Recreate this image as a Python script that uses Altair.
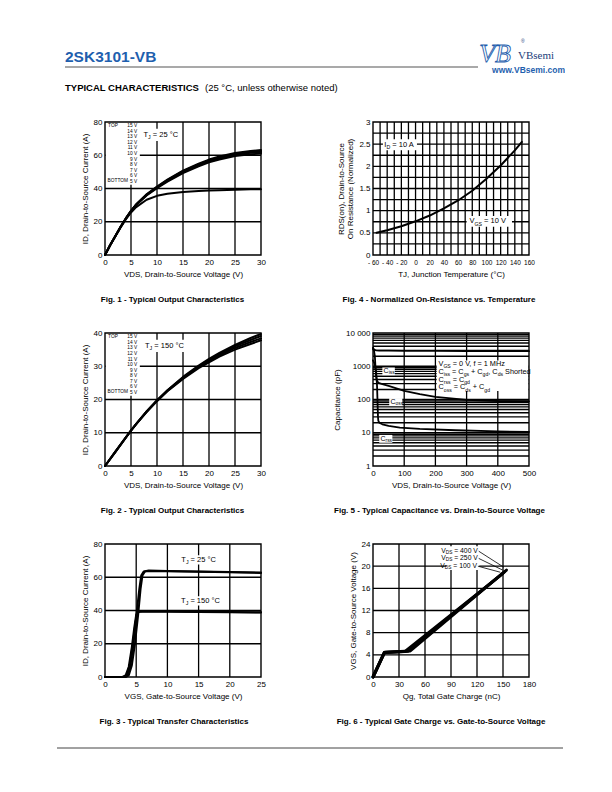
import altair as alt
import pandas as pd

FONT = "Liberation Sans"
BLUE = "#1f5fae"

# ---------------- data ----------------
# Fig 1: output characteristics, TJ = 25 C
f1_vds = [0, 1, 2, 3, 4, 5, 6, 8, 10, 12, 15, 18, 20, 22, 25, 28, 30]
f1_15v = [0, 6, 11.5, 17, 22, 26.5, 30.5, 36.5, 41.2, 45.3, 50.8, 55, 57.4, 59.2, 61.3, 62.6, 63.1]
f1_12v = [0, 6, 11.5, 17, 22, 26.5, 30.4, 36.3, 40.9, 45, 50.4, 54.5, 56.9, 58.7, 60.8, 62.1, 62.5]
f1_9v = [0, 6, 11.4, 16.9, 21.9, 26.4, 30.3, 36.1, 40.6, 44.6, 49.9, 54, 56.4, 58.2, 60.3, 61.5, 61.9]
f1_6v = [0, 6, 11.4, 16.8, 21.8, 26.3, 30.1, 35.8, 40.2, 44.1, 49.3, 53.3, 55.7, 57.4, 59.5, 60.6, 61]
f1_5v = [0, 5.9, 11.3, 16.6, 21.4, 25.6, 28.8, 33.2, 35.6, 36.8, 37.9, 38.5, 38.8, 39, 39.3, 39.5, 39.6]
f1_xgrid = [5, 10, 15, 20, 25]
f1_ygrid = [20, 40, 60]

# Fig 2: output characteristics, TJ = 150 C
f2_vds = [0, 2, 4, 5, 6, 8, 10, 12, 15, 18, 20, 22, 25, 28, 30]
f2_15v = [0, 4.3, 8.6, 10.7, 12.7, 16.4, 19.8, 22.8, 26.8, 30.2, 32.2, 34, 36.4, 38.5, 39.7]
f2_11v = [0, 4.3, 8.6, 10.7, 12.7, 16.4, 19.7, 22.7, 26.6, 30, 31.9, 33.7, 36, 37.9, 39.1]
f2_7v = [0, 4.3, 8.5, 10.6, 12.6, 16.3, 19.6, 22.6, 26.4, 29.7, 31.6, 33.3, 35.5, 37.3, 38.4]
f2_5v = [0, 4.2, 8.5, 10.6, 12.6, 16.2, 19.5, 22.5, 26.2, 29.4, 31.2, 32.9, 35, 36.7, 37.8]
f2_xgrid = [5, 10, 15, 20, 25]
f2_ygrid = [10, 20, 30]

legend_volts = ["15 V", "14 V", "13 V", "12 V", "11 V", "10 V", "9 V", "8 V", "7 V", "6 V", "5 V"]

# Fig 3: transfer characteristics
f3_25a_vgs = [0, 3, 3.5, 4, 4.5, 5, 5.5, 5.8, 6.2, 7, 10, 15, 20, 25]
f3_25a_id = [0, 0, 0.5, 5, 18, 36, 53, 61, 63.5, 64, 63.8, 63.5, 63.2, 62.8]
f3_25b_vgs = [0, 3.3, 3.8, 4.3, 4.8, 5.3, 5.7, 6.0, 6.4, 7, 10, 15, 20, 25]
f3_25b_id = [0, 0, 1, 7, 20, 37, 53, 61, 63.5, 63.8, 63.6, 63.3, 63, 62.6]
f3_150a_vgs = [0, 2.8, 3.3, 3.8, 4.3, 4.7, 5.0, 5.3, 6, 10, 15, 20, 25]
f3_150a_id = [0, 0, 1, 6, 18, 30, 37.5, 39.3, 39.6, 39.5, 39.3, 39.1, 39]
f3_150b_vgs = [0, 3.0, 3.5, 4.0, 4.5, 4.9, 5.2, 5.5, 6, 10, 15, 20, 25]
f3_150b_id = [0, 0, 1.5, 8, 21, 33, 38.5, 39.2, 39.4, 39.3, 39.1, 38.9, 38.8]
f3_xgrid = [5, 10, 15, 20]
f3_ygrid = [20, 40, 60]

# Fig 4: normalized on-resistance vs temperature
f4_tj = [-55, -40, -20, 0, 20, 40, 60, 80, 100, 120, 140, 150]
f4_rds = [0.5, 0.56, 0.65, 0.76, 0.89, 1.05, 1.23, 1.45, 1.72, 2.02, 2.36, 2.55]
f4_xgrid = list(range(-50, 160, 10))
f4_ygrid = [0.25, 0.5, 0.75, 1, 1.25, 1.5, 1.75, 2, 2.25, 2.5, 2.75]

# Fig 5: capacitance vs VDS
f5_ciss_v = [0, 2, 5, 10, 20, 50, 100, 200, 300, 400, 500]
f5_ciss_c = [3600, 3300, 3100, 3000, 2950, 2950, 2900, 2900, 2880, 2850, 2850]
f5_coss_v = [0, 3, 6, 8, 10, 12, 15, 20, 30, 50, 100, 150, 200, 300, 400, 500]
f5_coss_c = [3300, 3000, 2000, 900, 500, 380, 340, 310, 290, 255, 183, 145, 120, 97, 90, 88]
f5_crss_v = [0, 5, 10, 13, 15, 16, 17, 20, 30, 50, 86, 150, 264, 400, 500]
f5_crss_c = [1500, 1200, 700, 250, 60, 30, 23, 20, 18, 16, 14.3, 13, 11.9, 11, 10.6]
f5_xgrid = [100, 200, 300, 400]
f5_ygrid = [m * 10 ** d for d in range(4) for m in range(1, 10)][1:]

# Fig 6: gate charge
f6_100_qg = [0, 13, 37, 150]
f6_100_vgs = [0, 4.4, 4.6, 18.7]
f6_250_qg = [0, 13, 40, 152]
f6_250_vgs = [0, 4.4, 4.65, 19.0]
f6_400_qg = [0, 13.5, 43, 154]
f6_400_vgs = [0, 4.45, 4.7, 19.3]
f6_xgrid = [30, 60, 90, 120, 150]
f6_ygrid = [4, 8, 12, 16, 20]

W, H = 156, 133
GRID_W = 1.3

# Arial / Liberation Sans advance widths (1/1000 em) for rich-text layout
CHAR_W = {" ": 278, "=": 584, "°": 400, ",": 278, ".": 278, "+": 584, "A": 667, "C": 722,
          "D": 722, "G": 778, "H": 722, "I": 278, "J": 500, "M": 833, "S": 667, "T": 611,
          "V": 667, "a": 556, "d": 556, "e": 556, "f": 278, "g": 556, "h": 556, "i": 222,
          "o": 556, "r": 333, "s": 500, "t": 278, "z": 500}


# ---------------- helpers ----------------
def curves(items):
    rows = []
    for name, xs, ys in items:
        for a, b in zip(xs, ys):
            rows.append({"x": a, "y": b, "s": name})
    return pd.DataFrame(rows)


def grid(xs, ys, xd, yd):
    rows = [{"x": v, "x2": v, "y": yd[0], "y2": yd[1], "g": "v%s" % i} for i, v in enumerate(xs)]
    rows += [{"x": xd[0], "x2": xd[1], "y": v, "y2": v, "g": "h%s" % i} for i, v in enumerate(ys)]
    return [alt.Chart(pd.DataFrame(rows)).mark_rule(color="#000000", strokeWidth=GRID_W).encode(
        x2="x2:Q", y2="y2:Q", detail="g:N")]


def line_layer(df, width=2.0):
    return alt.Chart(df).mark_line(color="black", strokeWidth=width,
                                   strokeJoin="round", strokeCap="round").encode(detail="s:N")


def boxes(rects):
    return alt.Chart(pd.DataFrame(rects)).mark_rect(color="white").encode(x2="x2:Q", y2="y2:Q")


def texts(df, size=7.5, align="left"):
    return alt.Chart(df).mark_text(align=align, baseline="middle", fontSize=size,
                                   font=FONT, color="black").encode(text="t:N")


def tw(s, size):
    return sum(CHAR_W.get(c, 556) for c in s) * size / 1000.0


def rich(x, y, segs, size=7.5, align="left"):
    """Text with subscripts: segs is a list of (text, is_subscript)."""
    sub = size * 0.7
    widths = [tw(t, sub if s else size) for t, s in segs]
    total = sum(widths)
    off = 0 if align == "left" else (-total if align == "right" else -total / 2)
    out = []
    for (t, s), w in zip(segs, widths):
        fs = sub if s else size
        lead = len(t) - len(t.lstrip(" "))
        shown = t.strip(" ")
        if shown:
            out.append(alt.Chart(pd.DataFrame({"x": [x], "y": [y], "t": [shown]})).mark_text(
                align="left", baseline="middle", fontSize=fs, font=FONT, color="black",
                dx=off + tw(" " * lead, fs), dy=2.2 if s else 0).encode(text="t:N"))
        off += w
    return out


def frame(xd, yd):
    df = pd.DataFrame({"x": [xd[0]], "x2": [xd[1]], "y": [yd[0]], "y2": [yd[1]]})
    return alt.Chart(df).mark_rect(fillOpacity=0, stroke="black", strokeWidth=1.4).encode(
        x2="x2:Q", y2="y2:Q")


ONE = pd.DataFrame({"a": [0]})


def caption(txt, dx):
    return alt.Chart(ONE).mark_text(align="center", baseline="middle", fontSize=8,
                                    fontWeight="bold", font=FONT, color="black").encode(
        x=alt.value(W / 2 + dx), y=alt.value(H + 45), text=alt.value(txt))


def panel(layers, xd, yd, xvals, yvals, xtitle, ytitle, ylog=False, xexpr=None, yexpr=None,
          xlabelsize=8, xlabelpad=3):
    xaxis = dict(values=xvals, grid=False, title=xtitle, labelFontSize=xlabelsize,
                 labelPadding=xlabelpad)
    if xexpr:
        xaxis["labelExpr"] = xexpr
    yaxis = dict(values=yvals, grid=False, title=ytitle)
    if yexpr:
        yaxis["labelExpr"] = yexpr
    ysc = alt.Scale(type="log", domain=yd) if ylog else alt.Scale(domain=yd, nice=False, zero=False)
    return alt.layer(*layers).encode(
        x=alt.X("x:Q", scale=alt.Scale(domain=xd, nice=False, zero=False), axis=alt.Axis(**xaxis)),
        y=alt.Y("y:Q", scale=ysc, axis=alt.Axis(**yaxis)),
    ).properties(width=W, height=H)


# ---------------- header (drawn in pixel space of first panel) ----------------
def htext(txt, x, y, size, weight="normal", color="black", align="left", font=FONT, **kw):
    return alt.Chart(ONE).mark_text(align=align, baseline="alphabetic", fontSize=size,
                                    fontWeight=weight, font=font, color=color, **kw).encode(
        x=alt.value(x), y=alt.value(y), text=alt.value(txt))


def hrule(x1, x2, y, color, width):
    return alt.Chart(ONE).mark_rule(color=color, strokeWidth=width).encode(
        x=alt.value(x1), x2=alt.value(x2), y=alt.value(y))


header = [
    hrule(-96.5, -95.5, -113.5, "white", 1),
    htext("2SK3101-VB", -40, -60, 15.5, "bold", BLUE),
    hrule(-40, 373, -55, "#8c8c8c", 1.6),
    htext("VB", 390, -60, 26, "normal", "white", "center", "Liberation Serif",
          fontStyle="italic", stroke=BLUE, strokeWidth=0.9),
    htext("®", 416, -79, 5, "normal", "#1b3d7a"),
    htext("VBsemi", 413, -63, 11, "normal", "#1b3d7a", "left", "Liberation Serif"),
    htext("www.VBsemi.com", 460, -49, 8.5, "bold", BLUE, "right"),
    htext("TYPICAL CHARACTERISTICS", -40, -31, 9.5, "bold"),
    htext("(25 °C, unless otherwise noted)", 100, -31, 9.5),
    hrule(-48, 458, 626, "#444444", 1),
]

# ---------------- Fig 1 ----------------
f1_df = curves([("15", f1_vds, f1_15v), ("12", f1_vds, f1_12v), ("9", f1_vds, f1_9v),
                ("6", f1_vds, f1_6v), ("5", f1_vds, f1_5v)])
f1_leg_y = [77.4, 74.07, 70.74, 67.41, 64.08, 60.75, 57.42, 54.09, 50.76, 47.43, 44.1]
f1_leg = pd.DataFrame({"x": [6.2] * 11, "y": f1_leg_y, "t": legend_volts})
f1_tb = pd.DataFrame({"x": [0.6, 0.5], "y": [77.4, 44.6], "t": ["TOP", "BOTTOM"]})
fig1 = panel(
    header + grid(f1_xgrid, f1_ygrid, [0, 30], [0, 80]) + [
        boxes([{"x": 0.1, "x2": 6.7, "y": 42.3, "y2": 79.9},
               {"x": 7.0, "x2": 14.6, "y": 68.6, "y2": 76.0}]),
        line_layer(f1_df, 2.0),
        texts(f1_leg, 4.8, "right"),
        texts(f1_tb, 4.8, "left"),
    ] + rich(7.4, 72.3, [("T", False), ("J", True), (" = 25 °C", False)]) + [
        frame([0, 30], [0, 80]),
        caption("Fig. 1 - Typical Output Characteristics", -10.5),
    ],
    [0, 30], [0, 80], list(range(0, 31, 5)), [0, 20, 40, 60, 80],
    "VDS, Drain-to-Source Voltage (V)", "ID, Drain-to-Source Current (A)")

# ---------------- Fig 2 ----------------
f2_df = curves([("15", f2_vds, f2_15v), ("11", f2_vds, f2_11v), ("7", f2_vds, f2_7v),
                ("5", f2_vds, f2_5v)])
f2_leg_y = [38.7, 37.03, 35.37, 33.7, 32.03, 30.37, 28.7, 27.03, 25.37, 23.7, 22.05]
f2_leg = pd.DataFrame({"x": [6.2] * 11, "y": f2_leg_y, "t": legend_volts})
f2_tb = pd.DataFrame({"x": [0.6, 0.5], "y": [38.7, 22.3], "t": ["TOP", "BOTTOM"]})
fig2 = panel(
    grid(f2_xgrid, f2_ygrid, [0, 30], [0, 40]) + [
        boxes([{"x": 0.1, "x2": 6.7, "y": 21.1, "y2": 39.95},
               {"x": 7.2, "x2": 15.2, "y": 34.3, "y2": 38.0}]),
        line_layer(f2_df, 2.0),
        texts(f2_leg, 4.8, "right"),
        texts(f2_tb, 4.8, "left"),
    ] + rich(7.7, 36.2, [("T", False), ("J", True), (" = 150 °C", False)]) + [
        frame([0, 30], [0, 40]),
        caption("Fig. 2 - Typical Output Characteristics", -10.5),
    ],
    [0, 30], [0, 40], list(range(0, 31, 5)), list(range(0, 41, 10)),
    "VDS, Drain-to-Source Voltage (V)", "ID, Drain-to-Source Current (A)")

# ---------------- Fig 3 ----------------
f3_df = curves([("25a", f3_25a_vgs, f3_25a_id), ("25b", f3_25b_vgs, f3_25b_id),
                ("150a", f3_150a_vgs, f3_150a_id), ("150b", f3_150b_vgs, f3_150b_id)])
fig3 = panel(
    grid(f3_xgrid, f3_ygrid, [0, 25], [0, 80]) + [
        boxes([{"x": 11.7, "x2": 18.4, "y": 67.6, "y2": 73.3},
               {"x": 11.7, "x2": 18.9, "y": 43.0, "y2": 48.5}]),
        line_layer(f3_df, 2.0),
    ] + rich(15.0, 70.4, [("T", False), ("J", True), (" = 25 °C", False)], align="center")
    + rich(15.3, 45.7, [("T", False), ("J", True), (" = 150 °C", False)], align="center") + [
        frame([0, 25], [0, 80]),
        caption("Fig. 3 - Typical Transfer Characteristics", -9),
    ],
    [0, 25], [0, 80], list(range(0, 26, 5)), list(range(0, 81, 20)),
    "VGS, Gate-to-Source Voltage (V)", "ID, Drain-to-Source Current (A)")

# ---------------- Fig 4 ----------------
f4_df = curves([("r", f4_tj, f4_rds)])
fig4 = panel(
    grid(f4_xgrid, f4_ygrid, [-60, 160], [0, 3]) + [
        boxes([{"x": -46, "x2": 2, "y": 2.36, "y2": 2.61},
               {"x": 72, "x2": 136, "y": 0.64, "y2": 0.88}]),
        line_layer(f4_df, 2.0),
    ] + rich(-44, 2.48, [("I", False), ("D", True), (" = 10 A", False)])
    + rich(76, 0.76, [("V", False), ("GS", True), (" = 10 V", False)]) + [
        frame([-60, 160], [0, 3]),
        caption("Fig. 4 - Normalized On-Resistance vs. Temperature", -12),
    ],
    [-60, 160], [0, 3], list(range(-60, 161, 20)), [i * 0.5 for i in range(7)],
    "TJ, Junction Temperature (°C)",
    ["RDS(on), Drain-to-Source", "On Resistance (Normalized)"],
    xexpr="datum.value < 0 ? '- ' + format(-datum.value, 'd') : format(datum.value, 'd')",
    yexpr="format(datum.value, '~g')",
    xlabelsize=6.5, xlabelpad=4.5)

# ---------------- Fig 5 ----------------
f5_df = curves([("ciss", f5_ciss_v, f5_ciss_c), ("coss", f5_coss_v, f5_coss_c),
                ("crss", f5_crss_v, f5_crss_c)])
f5_notes = (
    rich(34, 715, [("C", False), ("iss", True)], 7)
    + rich(56, 85, [("C", False), ("oss", True)], 7)
    + rich(24, 6.7, [("C", False), ("rss", True)], 7)
    + rich(210, 1160, [("V", False), ("GS", True), (" = 0 V, f = 1 MHz", False)], 7.3)
    + rich(210, 682, [("C", False), ("iss", True), (" = C", False), ("gs", True),
                      (" + C", False), ("gd", True), (", C", False), ("ds", True),
                      (" Shorted", False)], 7.3)
    + rich(210, 392, [("C", False), ("rss", True), (" = C", False), ("gd", True)], 7.3)
    + rich(210, 230, [("C", False), ("oss", True), (" = C", False), ("ds", True),
                      (" + C", False), ("gd", True)], 7.3)
)
fig5 = panel(
    grid(f5_xgrid, f5_ygrid, [0, 500], [1, 10000]) + [
        boxes([{"x": 30, "x2": 70, "y": 540, "y2": 920},
               {"x": 52, "x2": 94, "y": 64, "y2": 110},
               {"x": 20, "x2": 62, "y": 5.0, "y2": 8.6},
               {"x": 204, "x2": 499, "y": 180, "y2": 1500}]),
        line_layer(f5_df, 1.8),
    ] + f5_notes + [
        frame([0, 500], [1, 10000]),
        caption("Fig. 5 - Typical Capacitance vs. Drain-to-Source Voltage", -11.5),
    ],
    [0, 500], [1, 10000], list(range(0, 501, 100)), [1, 10, 100, 1000, 10000],
    "VDS, Drain-to-Source Voltage (V)", "Capacitance (pF)", ylog=True,
    yexpr="datum.value == 10000 ? '10 000' : format(datum.value, 'd')")

# ---------------- Fig 6 ----------------
f6_df = curves([("100", f6_100_qg, f6_100_vgs), ("250", f6_250_qg, f6_250_vgs),
                ("400", f6_400_qg, f6_400_vgs)])
f6_arrows = pd.DataFrame({"x": [122, 122, 121], "y": [22.7, 21.4, 20.0],
                          "x2": [151, 149.5, 147], "y2": [19.8, 19.3, 18.9]})
fig6 = panel(
    grid(f6_xgrid, f6_ygrid, [0, 180], [0, 24]) + [
        boxes([{"x": 85, "x2": 122.5, "y": 19.3, "y2": 23.6}]),
        line_layer(f6_df, 3.0),
        alt.Chart(f6_arrows).mark_rule(color="black", strokeWidth=0.8).encode(
            x2="x2:Q", y2="y2:Q"),
    ] + rich(121, 22.8, [("V", False), ("DS", True), (" = 400 V", False)], 6.8, "right")
    + rich(121, 21.45, [("V", False), ("DS", True), (" = 250 V", False)], 6.8, "right")
    + rich(120, 20.1, [("V", False), ("DS", True), (" = 100 V", False)], 6.8, "right") + [
        frame([0, 180], [0, 24]),
        caption("Fig. 6 - Typical Gate Charge vs. Gate-to-Source Voltage", -10),
    ],
    [0, 180], [0, 24], list(range(0, 181, 30)), list(range(0, 25, 4)),
    "Qg, Total Gate Charge (nC)", "VGS, Gate-to-Source Voltage (V)")

chart = alt.concat(fig1, fig4, fig2, fig5, fig3, fig6, columns=2,
                   spacing={"row": 78, "column": 112}, bounds="flush").properties(
    padding=0
).configure_view(stroke=None).configure_axis(
    labelFont=FONT, titleFont=FONT, labelFontSize=8, titleFontSize=8,
    titleFontWeight="normal", labelColor="black", titleColor="black",
    ticks=False, domain=False, grid=False,
    labelPadding=3, titlePadding=4, labelFlush=False, labelOverlap=False,
    titleLineHeight=9.5)

chart.save("out.html", embed_options={"renderer": "svg", "actions": False})
